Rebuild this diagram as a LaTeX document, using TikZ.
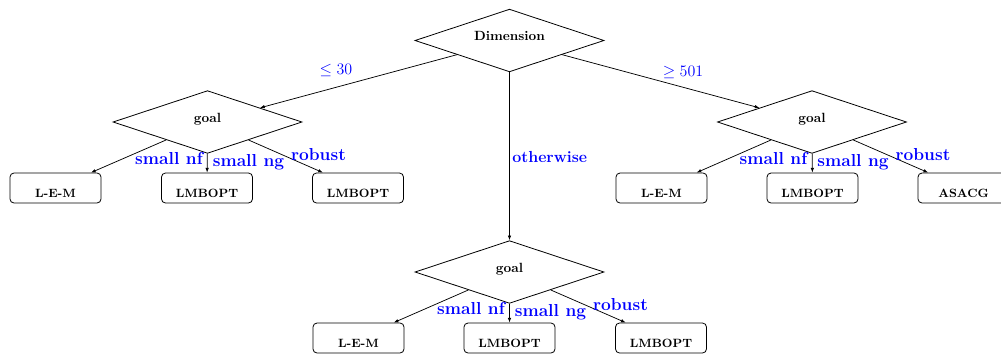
\documentclass[tikz,border=0pt]{standalone}
\usetikzlibrary{shapes.geometric,arrows.meta,calc}
\begin{document}
\begin{tikzpicture}[x=0.75pt,y=-0.75pt,
  dec/.style={draw,line width=0.6pt,diamond,shape aspect=3,inner sep=0pt,
    minimum width=141.75pt,minimum height=47pt,font=\normalsize\bfseries,
    text height=6pt,text depth=6pt},
  leaf/.style={draw,line width=0.6pt,rectangle,rounded corners=3pt,inner sep=2pt,
    minimum width=68.25pt,minimum height=22.5pt,font=\small\bfseries,
    text height=13.5pt,text depth=0pt},
  arr/.style={line width=0.55pt,-{Latex[length=3.5pt,width=2.6pt]}},
  lbl/.style={text=blue,font=\fontsize{13}{15}\selectfont\bfseries,inner sep=0pt,anchor=base},
  olbl/.style={text=blue,font=\large\bfseries,inner sep=0pt,anchor=base west},
  mlbl/.style={text=blue,font=\large,inner sep=0pt,anchor=base}]
\useasboundingbox (0,0) rectangle (1001,358);
% decision nodes
\node[dec] (dim) at (509.5,40.5) {Dimension};
\node[dec] (gl) at (207.5,122) {goal};
\node[dec] (gr) at (812,122) {goal};
\node[dec] (gm) at (509.5,272) {goal};
% leaves
\node[leaf] (l1) at (55.5,188) {L-E-M};
\node[leaf] (l2) at (207,188) {LMBOPT};
\node[leaf] (l3) at (358,188) {LMBOPT};
\node[leaf] (r1) at (661.5,188) {L-E-M};
\node[leaf] (r2) at (812.5,188) {LMBOPT};
\node[leaf] (r3) at (963.5,188) {ASACG};
\node[leaf] (m1) at (358.5,338) {L-E-M};
\node[leaf] (m2) at (509.5,338) {LMBOPT};
\node[leaf] (m3) at (661,338) {LMBOPT};
% edges
\draw[arr] (dim) -- (gl);
\draw[arr] (dim) -- (gr);
\draw[arr] (dim) -- (gm);
\draw[arr] (gl) -- (l1);
\draw[arr] (gl) -- (l2);
\draw[arr] (gl) -- (l3);
\draw[arr] (gr) -- (r1);
\draw[arr] (gr) -- (r2);
\draw[arr] (gr) -- (r3);
\draw[arr] (gm) -- (m1);
\draw[arr] (gm) -- (m2);
\draw[arr] (gm) -- (m3);
% edge labels
\node[mlbl] (le30) at (336,74) {$\leq 30$};
\node[mlbl] (ge501) at (683,76) {$\geq 501$};
\node[olbl] (oth) at (512,162) {otherwise};
\foreach \g in {gl,gr,gm}{
  \node[lbl] (\g nf) at ($(\g)+(-38.5,42)$) {small nf};
  \node[lbl] (\g ng) at ($(\g)+(41,44)$) {small ng};
  \node[lbl] (\g rb) at ($(\g)+(111,38.5)$) {robust};
}
\end{tikzpicture}
\end{document}
